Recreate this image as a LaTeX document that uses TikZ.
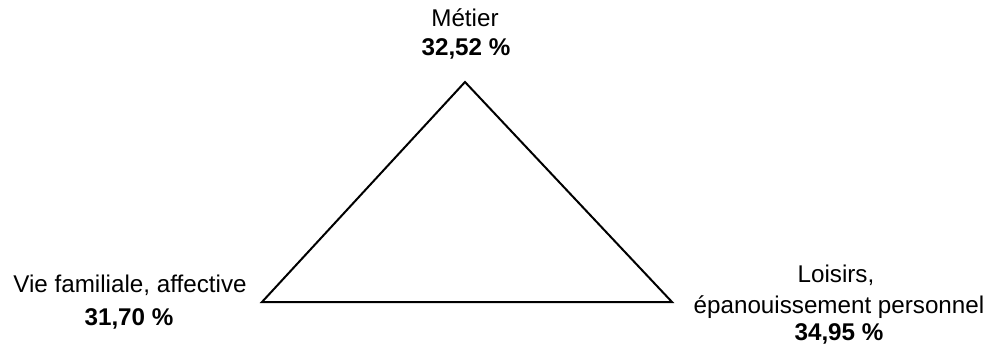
\documentclass[tikz,border=0pt]{standalone}
\usepackage{fontspec}
\setmainfont{Liberation Sans}
\begin{document}
\begin{tikzpicture}[x=1pt,y=-1pt,
  lbl/.style={inner sep=0pt,anchor=base,font=\fontsize{24.2}{29}\selectfont},
  val/.style={lbl,font=\fontsize{24.2}{29}\selectfont\bfseries},
  edge/.style={draw=black,line width=2pt,line join=miter}]
\useasboundingbox (0,0) rectangle (989,345);
\coordinate (top) at (465,82);
\coordinate (left) at (262,302);
\coordinate (right) at (672,302);
\draw[edge] (top) -- (left) -- (right) -- cycle;
\node[lbl] (m1) at (465,27) {Métier};
\node[val] (m2) at (466,56) {32,52 \%};
\node[lbl] (v1) at (130,292) {Vie familiale, affective};
\node[val] (v2) at (129,325) {31,70 \%};
\node[lbl] (l1) at (836,282) {Loisirs,};
\node[lbl] (l2) at (839,313) {épanouissement personnel};
\node[val] (l3) at (839,340) {34,95 \%};
\end{tikzpicture}
\end{document}
